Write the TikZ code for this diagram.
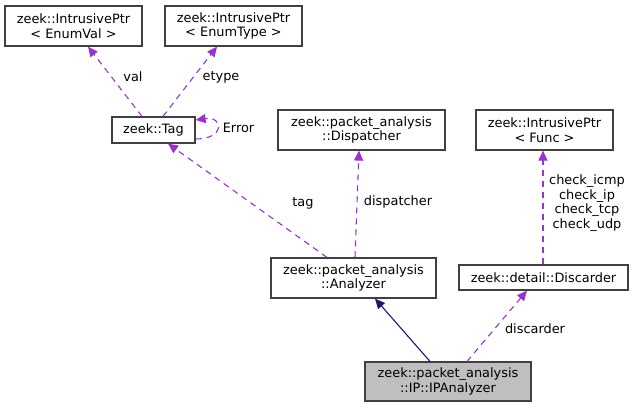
\documentclass[tikz,border=0pt]{standalone}
\usepackage{fontspec}
\setmainfont{DejaVu Sans}
\usetikzlibrary{arrows.meta}
\definecolor{edgepurple}{HTML}{9A32CD}
\definecolor{inhblue}{HTML}{191970}
\definecolor{boxgray}{HTML}{404040}
\definecolor{curfill}{HTML}{BFBFBF}
\begin{document}
\begin{tikzpicture}[x=1pt,y=-1pt,
  every node/.style={font=\fontsize{12.9}{14.5}\selectfont, inner sep=0pt},
  cls/.style={draw=boxgray, line width=1.2pt, fill=white, align=center, minimum height=40pt},
  clsone/.style={cls, minimum height=25pt},
  cur/.style={cls, fill=curfill},
  usage/.style={draw=edgepurple, line width=1.1pt, dash pattern=on 6pt off 5pt, -{Triangle[length=10pt,width=9pt]}},
  inherit/.style={draw=inhblue, line width=1.1pt, -{Triangle[length=10pt,width=9pt]}},
  lbl/.style={align=center, fill=none}
]
\useasboundingbox (0,0) rectangle (633,408);
\node[cls, minimum width=137pt] (ev) at (73.5,26) {zeek::IntrusivePtr\\< EnumVal >};
\node[cls, minimum width=137pt] (et) at (233.5,26) {zeek::IntrusivePtr\\< EnumType >};
\node[clsone, minimum width=83pt, minimum height=26pt] (tag) at (153.5,130) {zeek::Tag};
\node[cls, minimum width=167pt] (disp) at (361.5,130) {zeek::packet\_analysis\\::Dispatcher};
\node[cls, minimum width=137pt] (func) at (544.5,130) {zeek::IntrusivePtr\\< Func >};
\node[cls, minimum width=165pt] (an) at (353.5,278) {zeek::packet\_analysis\\::Analyzer};
\node[clsone, minimum width=169pt] (disc) at (543.5,277.5) {zeek::detail::Discarder};
\node[cur, minimum width=166pt, minimum height=39pt] (ip) at (448,381.5) {zeek::packet\_analysis\\::IP::IPAnalyzer};

\draw[usage] ([xshift=-11.5pt]tag.north) -- ([xshift=14.5pt]ev.south);
\node[lbl] (lval) at (133,77) {val};
\draw[usage] ([xshift=9.5pt]tag.north) -- ([xshift=-16.5pt]et.south);
\node[lbl] (let) at (221,77) {etype};
\draw[usage] ([yshift=-9pt]tag.east) .. controls +(30,0) and +(28,-4) .. ([yshift=10pt]tag.east);
\node[lbl] (lerr) at (238.5,128) {Error};
\draw[usage] ([xshift=-26.5pt]an.north) -- ([xshift=14.5pt]tag.south);
\node[lbl] (ltag) at (303,203) {tag};
\draw[usage] ([xshift=1.5pt]an.north) -- ([xshift=-2.5pt]disp.south);
\node[lbl] (ldisp) at (398,202) {dispatcher};
\draw[usage] ([xshift=-0.5pt]disc.north) -- ([xshift=-1.5pt]func.south);
\node[lbl] (lchk) at (587,203) {check\_icmp\\check\_ip\\check\_tcp\\check\_udp};
\draw[usage] ([xshift=19pt]ip.north) -- ([xshift=-16.5pt]disc.south);
\node[lbl] (ldisc) at (535,329) {discarder};
\draw[inherit] ([xshift=-18pt]ip.north) -- ([xshift=21.5pt]an.south);
\end{tikzpicture}
\end{document}
